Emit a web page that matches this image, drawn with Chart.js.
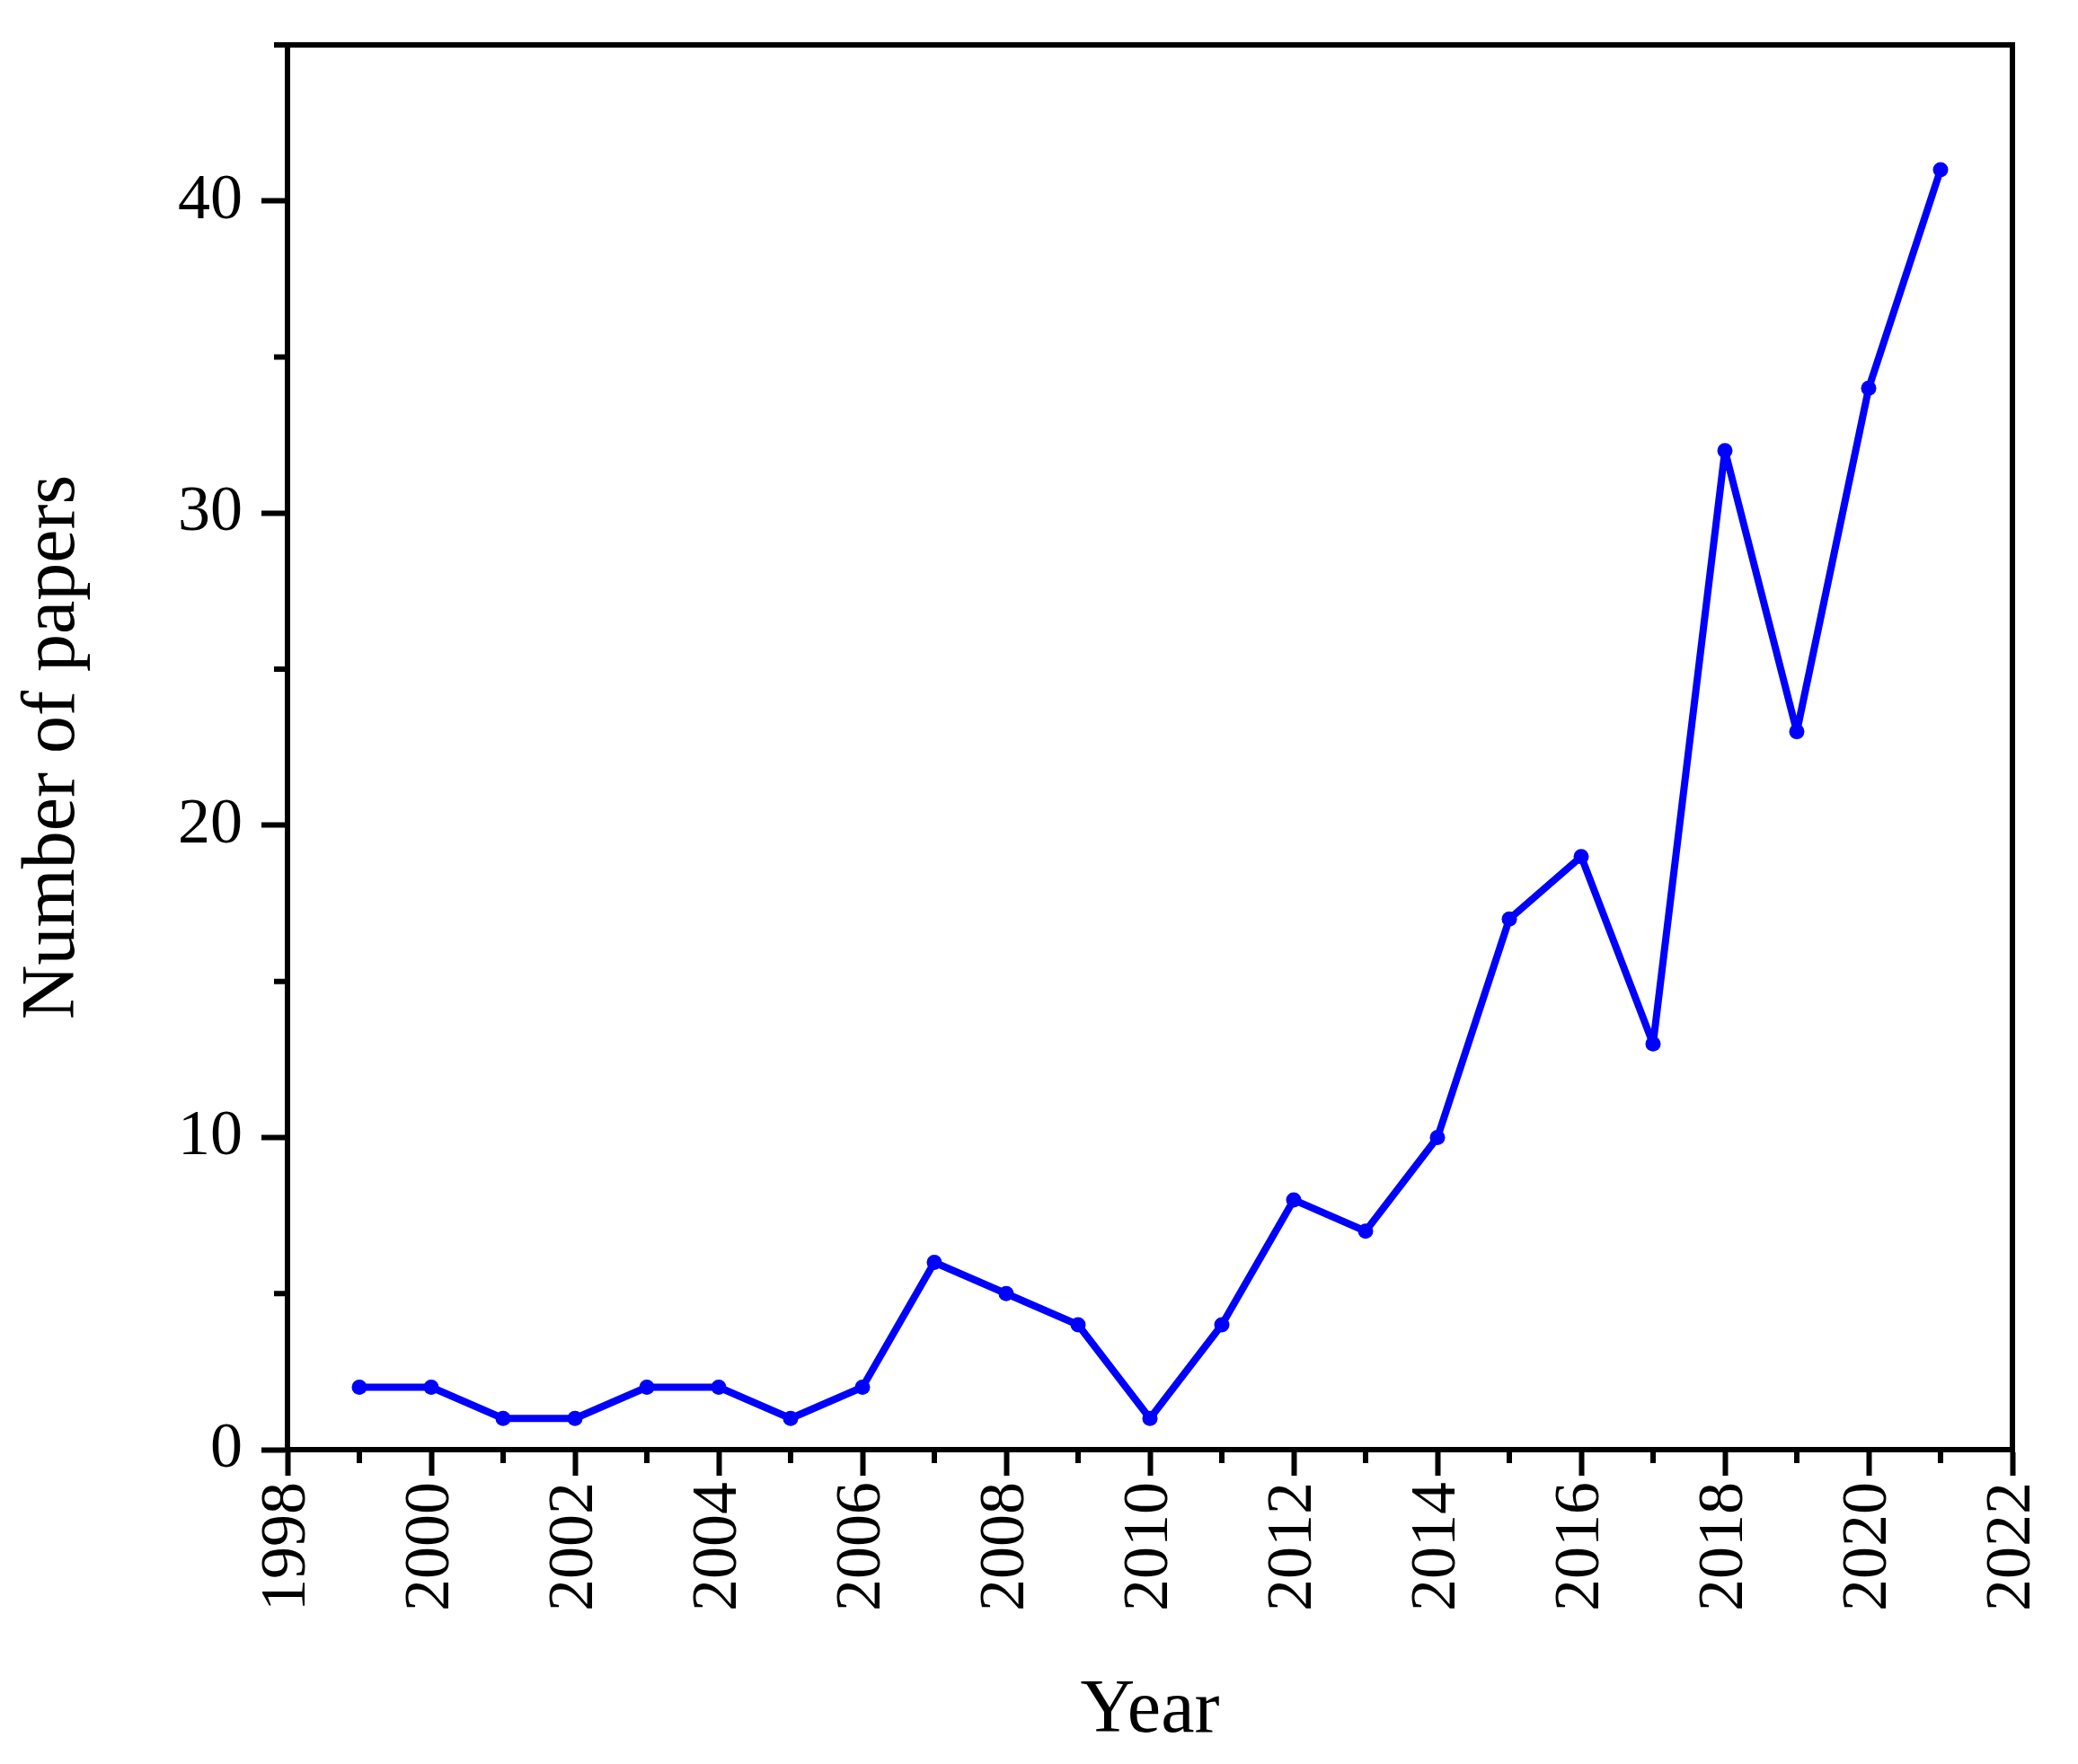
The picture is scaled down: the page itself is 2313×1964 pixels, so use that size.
<!DOCTYPE html>
<html>
<head>
<meta charset="utf-8">
<script src="https://cdn.jsdelivr.net/npm/chart.js@4/dist/chart.umd.min.js"></script>
<style>
  body { margin: 0; background: #fff; }
  canvas { display: block; }
</style>
</head>
<body>
<canvas id="paperChart" width="2313" height="1964"></canvas>
<script>
// data
const years = [1999, 2000, 2001, 2002, 2003, 2004, 2005, 2006, 2007, 2008, 2009, 2010,
               2011, 2012, 2013, 2014, 2015, 2016, 2017, 2018, 2019, 2020, 2021];
const papers = [2, 2, 1, 1, 2, 2, 1, 2, 6, 5, 4, 1, 4, 8, 7, 10, 17, 19, 13, 32, 23, 34, 41];

const xMajorTicks = [1998, 2000, 2002, 2004, 2006, 2008, 2010, 2012, 2014, 2016, 2018, 2020, 2022];
const xMinorTicks = [1999, 2001, 2003, 2005, 2007, 2009, 2011, 2013, 2015, 2017, 2019, 2021];
const yMajorTicks = [0, 10, 20, 30, 40];
const yMinorTicks = [5, 15, 25, 35, 45];

const FONT = "'Liberation Serif', 'Times New Roman', serif";

// box on top/right + minor ticks
const framePlugin = {
    id: 'frame',
    afterDraw(chart) {
        const ctx = chart.ctx;
        const a = chart.chartArea;
        const xs = chart.scales.x, ys = chart.scales.y;
        ctx.save();
        ctx.strokeStyle = '#000';
        ctx.lineWidth = 6;
        ctx.lineCap = 'butt';
        ctx.beginPath();
        ctx.moveTo(a.left - 3, a.top);
        ctx.lineTo(a.right, a.top);
        ctx.lineTo(a.right, a.bottom + 3);
        ctx.stroke();
        ctx.beginPath();
        xMinorTicks.forEach(v => {
            const px = xs.getPixelForValue(v);
            ctx.moveTo(px, a.bottom);
            ctx.lineTo(px, a.bottom + 15);
        });
        yMinorTicks.forEach(v => {
            const py = ys.getPixelForValue(v);
            ctx.moveTo(a.left, py);
            ctx.lineTo(a.left - 15, py);
        });
        ctx.stroke();
        ctx.restore();
    }
};

new Chart(document.getElementById('paperChart'), {
    type: 'line',
    data: {
        datasets: [{
            data: years.map((y, i) => ({ x: y, y: papers[i] })),
            borderColor: '#0000ff',
            backgroundColor: '#0000ff',
            borderWidth: 8,
            borderJoinStyle: 'round',
            pointRadius: 8.5,
            pointBorderWidth: 0,
            pointHoverRadius: 8.5,
            tension: 0
        }]
    },
    options: {
        responsive: false,
        animation: false,
        events: [],
        layout: { padding: { left: 0, top: 50, right: 73, bottom: 0 } },
        plugins: { legend: { display: false }, tooltip: { enabled: false } },
        scales: {
            x: {
                type: 'linear',
                min: 1998,
                max: 2022,
                afterBuildTicks: s => { s.ticks = xMajorTicks.map(v => ({ value: v })); },
                afterFit: s => { s.height = 350; s.paddingLeft = 0; s.paddingRight = 0; },
                grid: { drawOnChartArea: false, drawTicks: true, tickLength: 29, tickWidth: 6, tickColor: '#000' },
                border: { display: true, color: '#000', width: 6 },
                ticks: {
                    color: '#000',
                    font: { family: FONT, size: 72 },
                    minRotation: 90,
                    maxRotation: 90,
                    padding: 7,
                    autoSkip: false,
                    callback: v => String(v)
                },
                title: {
                    display: true,
                    text: 'Year',
                    color: '#000',
                    font: { family: FONT, size: 84 },
                    padding: { top: 0, bottom: 8 }
                }
            },
            y: {
                min: 0,
                max: 45,
                afterBuildTicks: s => { s.ticks = yMajorTicks.map(v => ({ value: v })); },
                afterFit: s => { s.width = 320; s.paddingTop = 0; s.paddingBottom = 0; },
                grid: { drawOnChartArea: false, drawTicks: true, tickLength: 29, tickWidth: 6, tickColor: '#000' },
                border: { display: true, color: '#000', width: 6 },
                ticks: {
                    color: '#000',
                    font: { family: FONT, size: 72 },
                    padding: 21,
                    callback: v => String(v)
                },
                title: {
                    display: true,
                    text: 'Number of papers',
                    color: '#000',
                    font: { family: FONT, size: 84 },
                    padding: { top: 10, bottom: 0 }
                }
            }
        }
    },
    plugins: [framePlugin]
});
</script>
</body>
</html>
